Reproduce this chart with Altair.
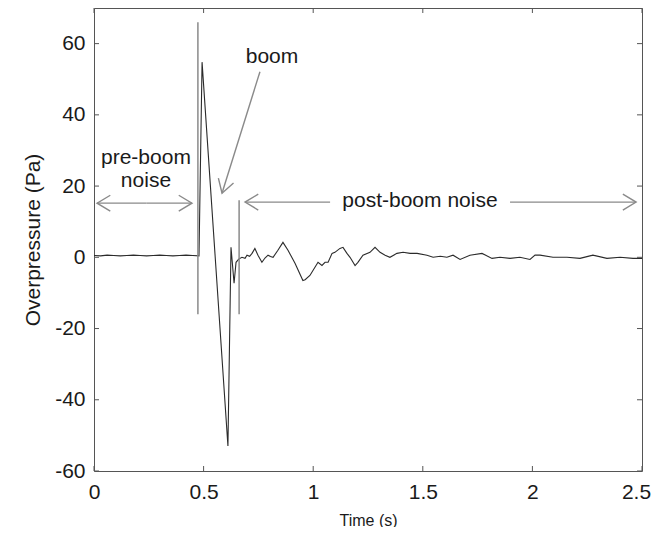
import math
import altair as alt
import pandas as pd

# ---- data ----
time = [0.00, 0.03, 0.06, 0.09, 0.12, 0.15, 0.18, 0.21, 0.24, 0.27,
        0.30, 0.33, 0.36, 0.39, 0.42, 0.45, 0.479, 0.493, 0.611, 0.625,
        0.639, 0.648, 0.660, 0.675, 0.689, 0.698, 0.710, 0.721, 0.734, 0.748,
        0.766, 0.780, 0.794, 0.805, 0.817, 0.839, 0.862, 0.885, 0.917, 0.953,
        0.963, 0.985, 1.008, 1.022, 1.040, 1.054, 1.068, 1.086, 1.099, 1.122,
        1.136, 1.154, 1.168, 1.191, 1.204, 1.227, 1.259, 1.282, 1.305, 1.328,
        1.350, 1.382, 1.410, 1.442, 1.474, 1.519, 1.547, 1.580, 1.610, 1.638,
        1.670, 1.715, 1.770, 1.816, 1.852, 1.898, 1.943, 1.989, 2.012, 2.035,
        2.094, 2.158, 2.217, 2.276, 2.340, 2.400, 2.459, 2.500]
pressure = [0.5, 0.4, 0.6, 0.5, 0.4, 0.5, 0.6, 0.5, 0.4, 0.5,
            0.6, 0.5, 0.4, 0.5, 0.6, 0.5, 0.4, 54.8, -53.0, 2.8,
            -7.3, -1.4, -0.5, 0.0, -0.3, 0.6, 0.3, 1.1, 2.5, 0.6,
            -1.4, -0.2, 0.6, 0.2, 0.0, 2.0, 4.2, 2.0, -1.7, -6.5,
            -6.3, -5.1, -2.8, -1.4, -2.3, -1.4, -1.4, 1.1, 1.4, 2.5,
            2.8, 1.1, 0.0, -2.3, -1.4, 0.6, 1.4, 2.8, 1.4, 0.6,
            0.0, 1.1, 1.4, 1.1, 1.1, 0.6, 0.0, 0.3, 0.0, 0.6,
            -0.6, 0.6, 1.1, -0.3, 0.0, -0.3, 0.0, -0.6, 0.6, 0.6,
            0.0, 0.0, -0.3, 0.6, -0.3, 0.0, -0.3, -0.3]

x_ticks = [0, 0.5, 1, 1.5, 2, 2.5]
y_ticks = [-60, -40, -20, 0, 20, 40, 60]

# boundary markers (time, low, high)
marker_t = [0.474, 0.662]
marker_lo = [-16, -16]
marker_hi = [66, 16]

# annotation labels
label_text = ["boom", "pre-boom", "noise", "post-boom noise"]
label_t = [0.812, 0.237, 0.237, 1.487]
label_v = [56.3, 27.9, 21.4, 15.8]

# arrows: start (t, v) -> end (t, v); head at end
arrow_t0 = [0.757, 0.240, 0.240, 1.077, 1.898]
arrow_v0 = [52.1, 15.2, 15.2, 15.5, 15.5]
arrow_t1 = [0.584, 0.014, 0.447, 0.689, 2.473]
arrow_v1 = [18.0, 15.2, 15.2, 15.5, 15.5]

# ---- layout ----
W, H = 548, 463
X_DOM = [0, 2.5]
Y_DOM = [-60, 70]
sx = W / (X_DOM[1] - X_DOM[0])
sy = H / (Y_DOM[1] - Y_DOM[0])

FONT = "Liberation Sans"
GRAY = "#8a8a8a"
INK = "#1a1a1a"

xs = alt.Scale(domain=X_DOM, nice=False, zero=False)
ys = alt.Scale(domain=Y_DOM, nice=False, zero=False)

sig = pd.DataFrame({"t": time, "p": pressure})

line = alt.Chart(sig).mark_line(color="#2b2b2b", strokeWidth=1.1).encode(
    x=alt.X("t:Q", scale=xs,
            axis=alt.Axis(title="Time (s)", values=x_ticks,
                          labelExpr="'' + datum.value",
                          labelFlush=False, labelOverlap=False,
                          labelOffset={"condition": {"test": f"datum.value == {X_DOM[1]}", "value": -6},
                                       "value": 0},
                          labelPadding=10, titlePadding=10,
                          labelFontSize=21, titleFontSize=16)),
    y=alt.Y("p:Q", scale=ys,
            axis=alt.Axis(title="Overpressure (Pa)", values=y_ticks,
                          labelExpr="'' + datum.value",
                          labelFlush=False, labelOverlap=False,
                          labelPadding=9, titlePadding=11,
                          labelFontSize=21, titleFontSize=21)),
    order=alt.Order("t:Q"),
)

mk = pd.DataFrame({"t": marker_t, "lo": marker_lo, "hi": marker_hi})
markers = alt.Chart(mk).mark_rule(color=GRAY, strokeWidth=1.5).encode(
    x=alt.X("t:Q", scale=xs), y=alt.Y("lo:Q", scale=ys), y2="hi:Q")

ar = pd.DataFrame({"t0": arrow_t0, "v0": arrow_v0, "t1": arrow_t1, "v1": arrow_v1})
ar["angle"] = [
    (math.degrees(math.atan2(-(v1 - v0) * sy, (t1 - t0) * sx)) + 360) % 360
    for t0, v0, t1, v1 in zip(arrow_t0, arrow_v0, arrow_t1, arrow_v1)
]
shafts = alt.Chart(ar).mark_rule(color=GRAY, strokeWidth=1.4).encode(
    x=alt.X("t0:Q", scale=xs), y=alt.Y("v0:Q", scale=ys), x2="t1:Q", y2="v1:Q")
heads = alt.Chart(ar).mark_point(
    shape="M -1 -0.6 L 0 0 L -1 0.6", filled=False, size=700,
    color=GRAY, strokeWidth=1.4, opacity=1,
).encode(
    x=alt.X("t1:Q", scale=xs), y=alt.Y("v1:Q", scale=ys),
    angle=alt.Angle("angle:Q", scale=None),
)

lab = pd.DataFrame({"t": label_t, "v": label_v, "txt": label_text})
labels = alt.Chart(lab).mark_text(
    font=FONT, fontSize=21, color=INK, align="center", baseline="middle"
).encode(x=alt.X("t:Q", scale=xs), y=alt.Y("v:Q", scale=ys), text="txt:N")

# inward tick marks on all four sides
xt = pd.DataFrame({"t": x_ticks})
yt = pd.DataFrame({"v": y_ticks})
TL = 5
tick_color = "#555555"
xb = alt.Chart(xt).mark_rule(color=tick_color).encode(
    x=alt.X("t:Q", scale=xs), y=alt.value(H), y2=alt.value(H - TL))
xtp = alt.Chart(xt).mark_rule(color=tick_color).encode(
    x=alt.X("t:Q", scale=xs), y=alt.value(0), y2=alt.value(TL))
yl = alt.Chart(yt).mark_rule(color=tick_color).encode(
    y=alt.Y("v:Q", scale=ys), x=alt.value(0), x2=alt.value(TL))
yr = alt.Chart(yt).mark_rule(color=tick_color).encode(
    y=alt.Y("v:Q", scale=ys), x=alt.value(W - TL), x2=alt.value(W))

chart = alt.layer(line, markers, shafts, heads, labels, xb, xtp, yl, yr).properties(
    width=W, height=H,
    autosize=alt.AutoSizeParams(type="none"),
    padding={"left": 86, "top": 0, "right": 9, "bottom": 56},
    background="white",
).configure_view(stroke="#555555", strokeWidth=1).configure_axis(
    domain=False, grid=False, ticks=False,
    labelFont=FONT, titleFont=FONT, labelColor=INK, titleColor=INK,
    titleFontWeight="normal",
)

chart.save("out.html", embed_options={"renderer": "svg", "actions": False})
